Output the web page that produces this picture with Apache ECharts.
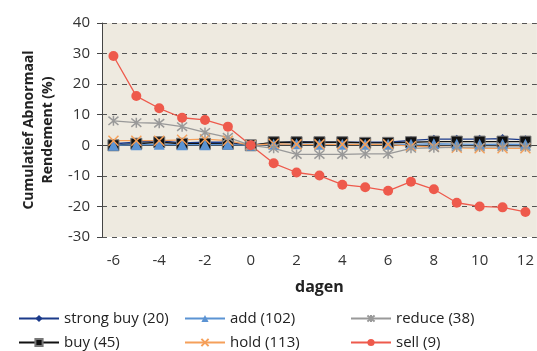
<!DOCTYPE html>
<html>
<head>
<meta charset="utf-8">
<script src="https://cdn.jsdelivr.net/npm/echarts@6/dist/echarts.min.js"></script>
<style>
  html, body { margin: 0; padding: 0; background: #fff; }
  #chart { width: 537px; height: 351px; }
</style>
</head>
<body>
<div id="chart"></div>
<script>
// dagen rond de aanbeveling
const days = ['-6', '-5', '-4', '-3', '-2', '-1', '0', '1', '2', '3', '4', '5', '6', '7', '8', '9', '10', '11', '12'];

// cumulatief abnormaal rendement (%)
const strongBuy = [0.5, 1.0, 1.5, 0.8, 1.0, 1.0, 0, 0.8, 1.2, 1.0, 1.0, 1.0, 1.0, 1.6, 2.0, 2.0, 2.0, 2.2, 1.8];
const buy = [0, 0.5, 1.0, 0.5, 0.5, 0.5, 0, 1.0, 1.0, 1.0, 1.0, 0.8, 0.8, 1.0, 1.2, 1.2, 1.2, 1.2, 1.2];
const add = [0, 0.2, 0.3, 0.2, 0.2, 0.3, 0, 0.3, 0.5, 0.3, 0.3, 0.3, 0.3, 0.3, 0.5, 0.4, 0.3, 0.4, 0.3];
const hold = [1.5, 1.5, 1.5, 1.8, 2.0, 1.5, 0, 0.5, 0.3, 0.3, 0.3, 0.3, 0.3, -0.3, -0.5, -0.8, -1.0, -1.0, -1.0];
const reduce = [8.0, 7.4, 7.2, 6.1, 4.2, 2.6, 0, -1.0, -3.0, -3.0, -3.0, -2.8, -2.8, -1.0, -0.8, -0.6, -0.6, -0.5, -0.5];
const sell = [29.2, 16.1, 12.1, 9.0, 8.3, 6.1, 0, -5.9, -8.9, -9.9, -12.9, -13.7, -14.9, -11.9, -14.4, -18.8, -20.0, -20.3, -21.8];

const yTicks = { min: -30, max: 40, interval: 10 };

const chart = echarts.init(document.getElementById('chart'));
const font = 'Open Sans';

// symbolen die alleen uit lijnen bestaan
const starPath = 'path://M0,0L10,10M10,0L0,10M5,-1L5,11';
const crossPath = 'path://M0,0L10,10M10,0L0,10';

function mkSeries(name, data, color, symbol, size, extra) {
  return Object.assign({
    name: name,
    type: 'line',
    data: data,
    symbol: symbol,
    symbolSize: size,
    lineStyle: { color: color, width: 1.3 },
    itemStyle: { color: color },
    z: 3
  }, extra || {});
}

const option = {
  animation: false,
  textStyle: { fontFamily: font },
  grid: { left: 102, right: 0, top: 23, bottom: 114 },
  legend: [
    { left: 18, top: 311, orient: 'vertical', data: ['strong buy (20)', 'buy (45)'] },
    { left: 184, top: 311, orient: 'vertical', data: ['add (102)', 'hold (113)'] },
    { left: 350, top: 311, orient: 'vertical', data: ['reduce (38)', 'sell (9)'] }
  ].map(l => Object.assign(l, {
    itemWidth: 40, itemHeight: 9, itemGap: 9, padding: 0,
    textStyle: { fontFamily: font, fontSize: 15, color: '#222' }
  })),
  xAxis: [
    {
      type: 'category',
      data: days,
      position: 'bottom',
      axisLine: { show: false, onZero: false },
      axisTick: { show: false },
      axisLabel: { interval: 1, fontSize: 15, color: '#333', margin: 16 },
      name: 'dagen',
      nameLocation: 'middle',
      nameGap: 42,
      nameTextStyle: { fontSize: 16, fontWeight: 'bold', color: '#222' }
    },
    {
      type: 'category',
      data: days,
      position: 'top',
      axisLine: { onZero: true, lineStyle: { color: '#444', width: 1 } },
      axisTick: { inside: true, length: 5, lineStyle: { color: '#444' } },
      axisLabel: { show: false }
    }
  ],
  yAxis: {
    type: 'value',
    min: yTicks.min,
    max: yTicks.max,
    interval: yTicks.interval,
    axisLine: { show: true, lineStyle: { color: '#444' } },
    axisTick: { show: true, length: 5, lineStyle: { color: '#444' } },
    axisLabel: { fontSize: 15, color: '#333', margin: 12 },
    splitLine: { lineStyle: { color: '#555', type: [5, 5] } },
    splitArea: { show: true, areaStyle: { color: ['#EEEAE0', '#EEEAE0'] } },
    name: 'Cumulatief Abnormaal\nRendement (%)',
    nameLocation: 'middle',
    nameGap: 41,
    nameTextStyle: { fontSize: 14, fontWeight: 'bold', color: '#222', lineHeight: 19 }
  },
  series: [
    mkSeries('strong buy (20)', strongBuy, '#1B3A8A', 'diamond', 9),
    mkSeries('buy (45)', buy, '#111', 'rect', 11, { itemStyle: { color: '#111', borderColor: '#777', borderWidth: 1 } }),
    mkSeries('add (102)', add, '#5B93D3', 'triangle', 11),
    mkSeries('hold (113)', hold, '#F5A05A', crossPath, 10, { itemStyle: { color: 'none', borderColor: '#F5A05A', borderWidth: 1.5 } }),
    mkSeries('reduce (38)', reduce, '#999', starPath, 10, { itemStyle: { color: 'none', borderColor: '#999', borderWidth: 1.5 } }),
    mkSeries('sell (9)', sell, '#EE5A4C', 'circle', 10)
  ]
};

chart.setOption(option);
</script>
</body>
</html>
